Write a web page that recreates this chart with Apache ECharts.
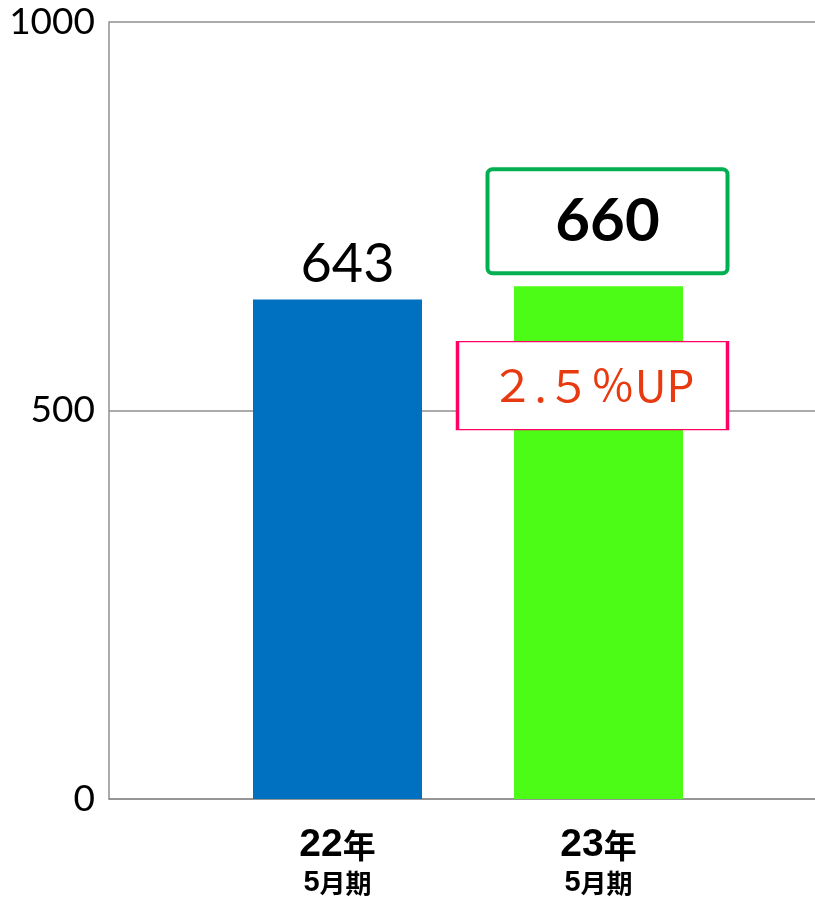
<!DOCTYPE html>
<html>
<head>
<meta charset="utf-8">
<script src="https://cdn.jsdelivr.net/npm/echarts@6/dist/echarts.min.js"></script>
<style>
  html, body { margin: 0; padding: 0; background: #fff; }
  #chart { width: 815px; height: 901px; }
</style>
</head>
<body>
<div id="chart"></div>
<script>
const categories = ["22年\n5月期", "23年\n5月期"];
const values = [643, 660];
const barColors = ["#0070c0", "#4cfc16"];
const yTicks = [0, 500, 1000];
const upText = "２.５％UP";
const upAnchor = 532; // where the growth note sits on the value scale

const chart = echarts.init(document.getElementById("chart"));

const gridColor = "#8f8f8f";
const numFont = "Lato, 'Open Sans', sans-serif";
const jpFont = "'Noto Sans CJK JP', sans-serif";

// split "22年" into digit and kanji runs so each gets its own font
const styled = (s, d, k) =>
  s.replace(/(\d+)|([^\d]+)/g, (m, num, kan) =>
    num ? "{" + d + "|" + num + "}" : "{" + k + "|" + kan + "}");

const option = {
  animation: false,
  grid: [
    { left: 109, right: 0, top: 22, bottom: 102 },
    { left: 207, right: 86, top: 22, bottom: 102 },
  ],
  xAxis: [
    {
      gridIndex: 0,
      type: "category",
      data: [""],
      axisLine: { show: true, lineStyle: { color: gridColor, width: 1.5 } },
      axisTick: { show: false },
      axisLabel: { show: false },
    },
    {
      gridIndex: 1,
      type: "category",
      data: categories,
      axisLine: { show: false },
      axisTick: { show: false },
      axisLabel: {
        margin: 26,
        formatter: (v) => {
          const [a, b] = v.split("\n");
          return styled(a, "ad", "ak") + "\n" + styled(b, "bd", "bk");
        },
        rich: {
          ad: { fontFamily: "'Liberation Sans'", fontWeight: "bold", fontSize: 39, color: "#000", lineHeight: 40 },
          ak: { fontFamily: jpFont, fontWeight: "bold", fontSize: 33, color: "#000", lineHeight: 40 },
          bd: { fontFamily: "'Liberation Sans'", fontWeight: "bold", fontSize: 29, color: "#000", lineHeight: 36 },
          bk: { fontFamily: jpFont, fontWeight: "bold", fontSize: 26, color: "#000", lineHeight: 36 },
        },
      },
    },
  ],
  yAxis: [
    {
      gridIndex: 0,
      type: "value",
      min: yTicks[0],
      max: yTicks[yTicks.length - 1],
      interval: yTicks[1] - yTicks[0],
      axisLine: { show: true, lineStyle: { color: gridColor, width: 1.5 } },
      axisTick: { show: false },
      axisLabel: {
        fontFamily: numFont,
        fontSize: 37,
        color: "#000",
        margin: 14,
        formatter: (v) => String(v),
      },
      splitLine: { lineStyle: { color: gridColor, width: 1.5 } },
    },
    {
      gridIndex: 1,
      type: "value",
      min: yTicks[0],
      max: yTicks[yTicks.length - 1],
      show: false,
      splitLine: { show: false },
    },
  ],
  series: [
    {
      type: "bar",
      xAxisIndex: 1,
      yAxisIndex: 1,
      barWidth: 169,
      data: values.map((v, i) => ({
        value: v,
        itemStyle: { color: barColors[i] },
        label:
          i === 0
            ? {
                show: true,
                position: "top",
                distance: 8,
                offset: [10, 0],
                fontFamily: numFont,
                fontSize: 54,
                color: "#000",
              }
            : {
                show: true,
                position: "top",
                distance: 15,
                offset: [9, 0],
                fontFamily: numFont,
                fontWeight: "bold",
                fontSize: 60,
                color: "#000",
                backgroundColor: "#fff",
                borderColor: "#00b050",
                borderWidth: 4,
                borderRadius: 3,
                width: 236,
                height: 100,
                lineHeight: 100,
                align: "center",
              },
      })),
      markPoint: {
        symbol: "rect",
        symbolSize: [270, 88],
        symbolOffset: [-6, 0],
        itemStyle: { color: "#fff", borderColor: "#ff0066", borderWidth: 2 },
        label: {
          show: true,
          position: "inside",
          formatter: upText,
          fontFamily: jpFont,
          fontSize: 44,
          color: "#e83a10",
        },
        data: [{ coord: [categories[1], upAnchor] }],
      },
    },
  ],
};

chart.setOption(option);
</script>
</body>
</html>
